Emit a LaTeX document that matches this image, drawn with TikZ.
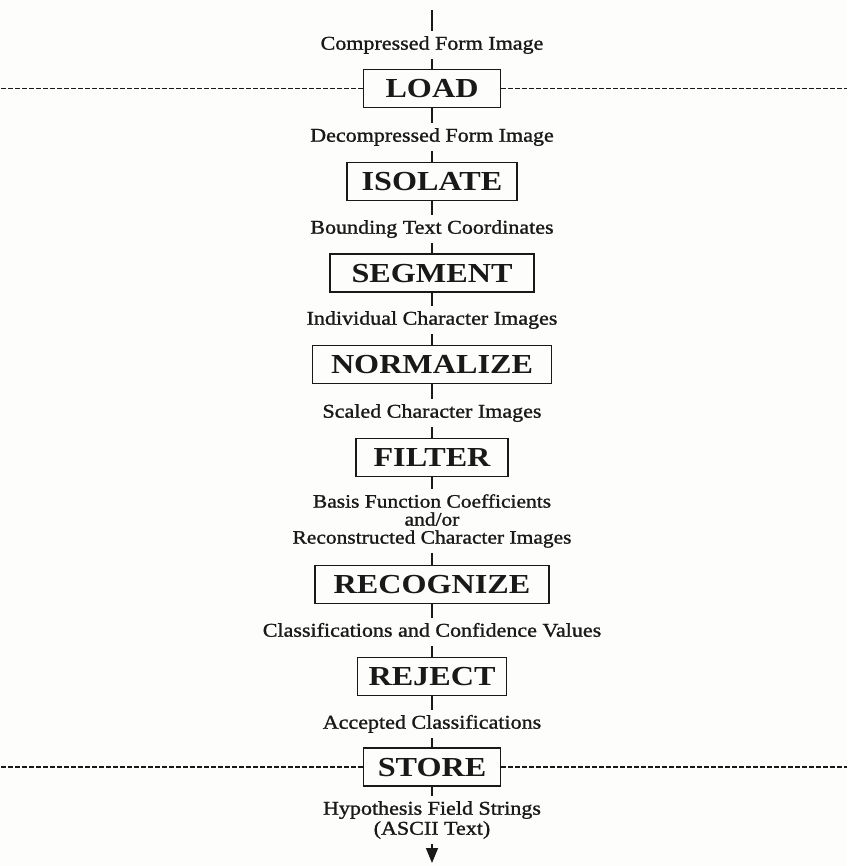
\documentclass[tikz,border=0pt]{standalone}
\usepackage{fontspec}
\setmainfont{Liberation Serif}
\newfontfamily\labelfont[FakeStretch=1.13,FakeBold=1.2]{Liberation Serif}
\newfontfamily\stagefont[FakeStretch=1.17]{Liberation Serif}
\usetikzlibrary{arrows.meta}
\definecolor{bg}{RGB}{253,253,251}
\definecolor{ink}{RGB}{25,25,25}
\begin{document}
\begin{tikzpicture}[x=1pt,y=-1pt,
  stagebox/.style={draw=ink, text=ink, line width=1.8pt, minimum height=38pt,
    inner xsep=0pt, inner ysep=0pt, text height=18.5pt, text depth=0pt,
    font=\stagefont\bfseries\fontsize{27.5}{30}\selectfont},
  flowlabel/.style={text=ink, inner xsep=2pt, inner ysep=5pt, text height=13.7pt,
    text depth=4.3pt, font=\labelfont\fontsize{19.5}{22}\selectfont},
  multilabel/.style={text=ink, inner xsep=2pt, inner ysep=5pt, align=center},
  flowline/.style={draw=ink, line width=1.5pt},
  boundary/.style={draw=ink, line width=1.1pt, dash pattern=on 5pt off 2pt}]
\useasboundingbox[fill=bg] (0,0) rectangle (847,866);
\coordinate (westedge) at (0,0);
\coordinate (eastedge) at (847,0);
\coordinate (start) at (432,10);
\node[flowlabel] (l0) at (432,45) {Compressed Form Image};
\node[stagebox, minimum width=137pt] (load) at (432,88.5) {LOAD};
\node[flowlabel] (l1) at (432,137) {Decompressed Form Image};
\node[stagebox, minimum width=170pt] (isolate) at (432,181.5) {ISOLATE};
\node[flowlabel] (l2) at (432,229) {Bounding Text Coordinates};
\node[stagebox, minimum width=204pt] (segment) at (432,273) {SEGMENT};
\node[flowlabel] (l3) at (432,320) {Individual Character Images};
\node[stagebox, minimum width=239pt] (normalize) at (432,364.5) {NORMALIZE};
\node[flowlabel] (l4) at (432,413) {Scaled Character Images};
\node[stagebox, minimum width=152pt] (filter) at (432,457.5) {FILTER};
\node[multilabel, font=\labelfont\fontsize{19}{18}\selectfont] (l5) at (432,521)
  {Basis Function Coefficients\\and/or\\Reconstructed Character Images};
\node[stagebox, minimum width=234pt] (recognize) at (432,584.5) {RECOGNIZE};
\node[flowlabel] (l6) at (432,632) {Classifications and Confidence Values};
\node[stagebox, minimum width=149pt] (reject) at (432,676.5) {REJECT};
\node[flowlabel] (l7) at (432,724) {Accepted Classifications};
\node[stagebox, minimum width=137pt] (store) at (432,767) {STORE};
\node[multilabel, font=\labelfont\fontsize{19.5}{20}\selectfont] (l8) at (432,820)
  {Hypothesis Field Strings\\(ASCII Text)};
\coordinate (finish) at (432,863);
\draw[flowline] (start) -- (l0.north);
\draw[flowline] (l0.south) -- (load.north);
\draw[flowline] (load.south) -- (l1.north);
\draw[flowline] (l1.south) -- (isolate.north);
\draw[flowline] (isolate.south) -- (l2.north);
\draw[flowline] (l2.south) -- (segment.north);
\draw[flowline] (segment.south) -- (l3.north);
\draw[flowline] (l3.south) -- (normalize.north);
\draw[flowline] (normalize.south) -- (l4.north);
\draw[flowline] (l4.south) -- (filter.north);
\draw[flowline] (filter.south) -- (l5.north);
\draw[flowline] (l5.south) -- (recognize.north);
\draw[flowline] (recognize.south) -- (l6.north);
\draw[flowline] (l6.south) -- (reject.north);
\draw[flowline] (reject.south) -- (l7.north);
\draw[flowline] (l7.south) -- (store.north);
\draw[flowline] (store.south) -- (l8.north);
\draw[flowline, -{Triangle[width=12pt,length=15pt]}] (l8.south) -- (finish);
\draw[boundary] (load.west) -- (load.west -| westedge);
\draw[boundary] (load.east) -- (load.east -| eastedge);
\draw[boundary] (store.west) -- (store.west -| westedge);
\draw[boundary] (store.east) -- (store.east -| eastedge);
\end{tikzpicture}
\end{document}
